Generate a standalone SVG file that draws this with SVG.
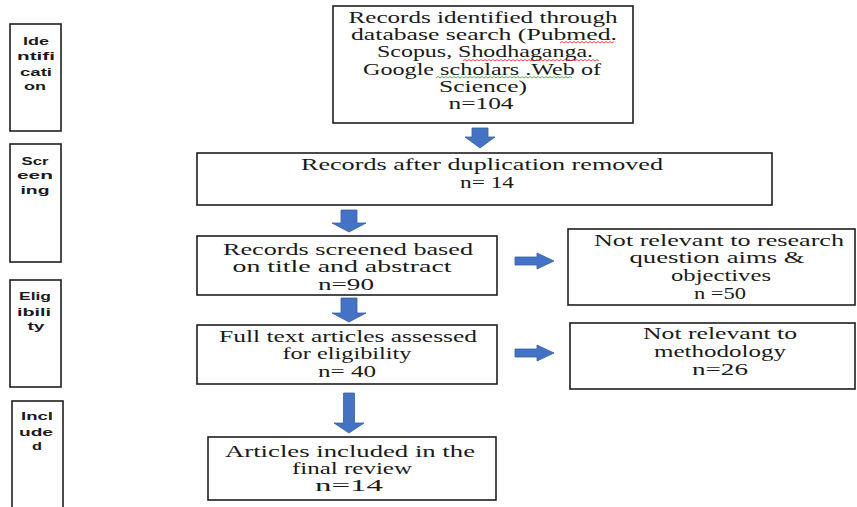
<svg xmlns="http://www.w3.org/2000/svg" width="857" height="507" viewBox="0 0 857 507">
<style>
.box{fill:#fff;stroke:#1e1e1e;stroke-width:1.6}
.t{font-family:"Liberation Serif","Times New Roman",serif;font-size:16px;fill:#1a1a1a;text-anchor:middle}
.s{font-family:"Liberation Sans",Arial,sans-serif;font-size:11px;font-weight:bold;fill:#1a1a1a;text-anchor:middle}
.arr{fill:#4472C4;stroke:#3560AA;stroke-width:0.8}
.sq{fill:none;stroke-width:0.8}
</style>
<rect width="857" height="507" fill="#fff"/>
<g id="stage-identification">
<rect class="box" x="10" y="24" width="51" height="107"/>
<text class="s" x="36" y="45" textLength="26" lengthAdjust="spacingAndGlyphs">Ide</text>
<text class="s" x="36" y="60" textLength="38" lengthAdjust="spacingAndGlyphs">ntifi</text>
<text class="s" x="36" y="76" textLength="32" lengthAdjust="spacingAndGlyphs">cati</text>
<text class="s" x="35" y="90" textLength="22" lengthAdjust="spacingAndGlyphs">on</text>
</g>
<g id="stage-screening">
<rect class="box" x="10" y="144" width="51" height="118"/>
<text class="s" x="35" y="165" textLength="27" lengthAdjust="spacingAndGlyphs">Scr</text>
<text class="s" x="35" y="179" textLength="36" lengthAdjust="spacingAndGlyphs">een</text>
<text class="s" x="35" y="194" textLength="29" lengthAdjust="spacingAndGlyphs">ing</text>
</g>
<g id="stage-eligibility">
<rect class="box" x="10" y="280" width="51" height="107"/>
<text class="s" x="35" y="300" textLength="32" lengthAdjust="spacingAndGlyphs">Elig</text>
<text class="s" x="34" y="316" textLength="34" lengthAdjust="spacingAndGlyphs">ibili</text>
<text class="s" x="36" y="330" textLength="17" lengthAdjust="spacingAndGlyphs">ty</text>
</g>
<g id="stage-included">
<rect class="box" x="12" y="401" width="51" height="120"/>
<text class="s" x="37" y="420" textLength="32" lengthAdjust="spacingAndGlyphs">Incl</text>
<text class="s" x="36" y="436" textLength="34" lengthAdjust="spacingAndGlyphs">ude</text>
<text class="s" x="37" y="450" textLength="10" lengthAdjust="spacingAndGlyphs">d</text>
</g>
<g id="node-identified">
<rect class="box" x="333" y="6" width="300" height="117"/>
<text class="t" x="483" y="23" textLength="269" lengthAdjust="spacingAndGlyphs">Records identified through</text>
<text class="t" x="484" y="40" textLength="266" lengthAdjust="spacingAndGlyphs">database search (Pubmed.</text>
<text class="t" x="485" y="57" textLength="216" lengthAdjust="spacingAndGlyphs">Scopus, Shodhaganga.</text>
<text class="t" x="482" y="75" textLength="238" lengthAdjust="spacingAndGlyphs">Google scholars .Web of</text>
<text class="t" x="483" y="92" textLength="88" lengthAdjust="spacingAndGlyphs">Science)</text>
<text class="t" x="481" y="109" textLength="65" lengthAdjust="spacingAndGlyphs">n=104</text>
<path class="sq" stroke="#e02020" d="M560 43 l2 -1.5 l2 1.5 l2 -1.5 l2 1.5 l2 -1.5 l2 1.5 l2 -1.5 l2 1.5 l2 -1.5 l2 1.5 l2 -1.5 l2 1.5 l2 -1.5 l2 1.5 l2 -1.5 l2 1.5 l2 -1.5 l2 1.5 l2 -1.5 l2 1.5 l2 -1.5 l2 1.5 l2 -1.5 l2 1.5 l2 -1.5 l2 1.5 l2 -1.5"/>
<path class="sq" stroke="#e02020" d="M463 61 l2 -1.5 l2 1.5 l2 -1.5 l2 1.5 l2 -1.5 l2 1.5 l2 -1.5 l2 1.5 l2 -1.5 l2 1.5 l2 -1.5 l2 1.5 l2 -1.5 l2 1.5 l2 -1.5 l2 1.5 l2 -1.5 l2 1.5 l2 -1.5 l2 1.5 l2 -1.5 l2 1.5 l2 -1.5 l2 1.5 l2 -1.5 l2 1.5 l2 -1.5 l2 1.5 l2 -1.5 l2 1.5 l2 -1.5 l2 1.5 l2 -1.5 l2 1.5 l2 -1.5 l2 1.5 l2 -1.5 l2 1.5 l2 -1.5 l2 1.5 l2 -1.5 l2 1.5 l2 -1.5 l2 1.5 l2 -1.5 l2 1.5 l2 -1.5 l2 1.5 l2 -1.5 l2 1.5 l2 -1.5 l2 1.5 l2 -1.5 l2 1.5 l2 -1.5 l2 1.5 l2 -1.5 l2 1.5 l2 -1.5 l2 1.5 l2 -1.5 l2 1.5 l2 -1.5 l2 1.5 l2 -1.5 l2 1.5 l2 -1.5 l2 1.5"/>
<path class="sq" stroke="#2aa02a" d="M436 78 l2 -1.5 l2 1.5 l2 -1.5 l2 1.5 l2 -1.5 l2 1.5 l2 -1.5 l2 1.5 l2 -1.5 l2 1.5 l2 -1.5 l2 1.5 l2 -1.5 l2 1.5 l2 -1.5 l2 1.5 l2 -1.5 l2 1.5 l2 -1.5 l2 1.5 l2 -1.5 l2 1.5 l2 -1.5 l2 1.5 l2 -1.5 l2 1.5 l2 -1.5 l2 1.5 l2 -1.5 l2 1.5 l2 -1.5 l2 1.5 l2 -1.5 l2 1.5 l2 -1.5 l2 1.5 l2 -1.5 l2 1.5 l2 -1.5 l2 1.5 l2 -1.5 l2 1.5 l2 -1.5 l2 1.5 l2 -1.5 l2 1.5 l2 -1.5 l2 1.5 l2 -1.5 l2 1.5 l2 -1.5 l2 1.5 l2 -1.5 l2 1.5 l2 -1.5 l2 1.5 l2 -1.5 l2 1.5 l2 -1.5 l2 1.5 l2 -1.5 l2 1.5 l2 -1.5 l2 1.5 l2 -1.5 l2 1.5 l2 -1.5 l2 1.5"/>
</g>
<g id="node-dedup">
<rect class="box" x="197" y="153" width="575" height="52"/>
<text class="t" x="482" y="170" textLength="362" lengthAdjust="spacingAndGlyphs">Records after duplication removed</text>
<text class="t" x="487" y="188" textLength="54" lengthAdjust="spacingAndGlyphs">n= 14</text>
</g>
<g id="node-screened">
<rect class="box" x="197" y="236" width="300" height="59"/>
<text class="t" x="348" y="255" textLength="250" lengthAdjust="spacingAndGlyphs">Records screened based</text>
<text class="t" x="342" y="272" textLength="219" lengthAdjust="spacingAndGlyphs">on title and abstract</text>
<text class="t" x="346" y="290" textLength="56" lengthAdjust="spacingAndGlyphs">n=90</text>
</g>
<g id="node-excluded-aims">
<rect class="box" x="568" y="229" width="287" height="76"/>
<text class="t" x="719" y="246" textLength="250" lengthAdjust="spacingAndGlyphs">Not relevant to research</text>
<text class="t" x="717" y="263" textLength="175" lengthAdjust="spacingAndGlyphs">question aims &amp;</text>
<text class="t" x="721" y="281" textLength="100" lengthAdjust="spacingAndGlyphs">objectives</text>
<text class="t" x="720" y="299" textLength="52" lengthAdjust="spacingAndGlyphs">n =50</text>
</g>
<g id="node-fulltext">
<rect class="box" x="197" y="325" width="300" height="59"/>
<text class="t" x="348" y="342" textLength="258" lengthAdjust="spacingAndGlyphs">Full text articles assessed</text>
<text class="t" x="347" y="359" textLength="129" lengthAdjust="spacingAndGlyphs">for eligibility</text>
<text class="t" x="347" y="377" textLength="58" lengthAdjust="spacingAndGlyphs">n= 40</text>
</g>
<g id="node-excluded-method">
<rect class="box" x="570" y="323" width="285" height="66"/>
<text class="t" x="720" y="339" textLength="154" lengthAdjust="spacingAndGlyphs">Not relevant to</text>
<text class="t" x="720" y="357" textLength="132" lengthAdjust="spacingAndGlyphs">methodology</text>
<text class="t" x="720" y="375" textLength="56" lengthAdjust="spacingAndGlyphs">n=26</text>
</g>
<g id="node-included">
<rect class="box" x="208" y="437" width="288" height="63"/>
<text class="t" x="350" y="457" textLength="250" lengthAdjust="spacingAndGlyphs">Articles included in the</text>
<text class="t" x="352" y="474" textLength="120" lengthAdjust="spacingAndGlyphs">final review</text>
<text class="t" x="349" y="491" textLength="68" lengthAdjust="spacingAndGlyphs">n=14</text>
</g>
<g id="connectors">
<path class="arr" d="M472 128 H488 V137 H495 L480 148 L465 137 H472 Z"/>
<path class="arr" d="M341 210 H357 V223 H366 L349 232 L332 223 H341 Z"/>
<path class="arr" d="M341 298 H357 V313 H366 L349 322 L332 313 H341 Z"/>
<path class="arr" d="M343.5 393 H354.5 V423 H364 L349 433 L334 423 H343.5 Z"/>
<path class="arr" d="M515 257 H537 V253 L554 261 L537 269 V265 H515 Z"/>
<path class="arr" d="M515 349 H537 V345 L554 353 L537 361 V357 H515 Z"/>
</g>
</svg>
